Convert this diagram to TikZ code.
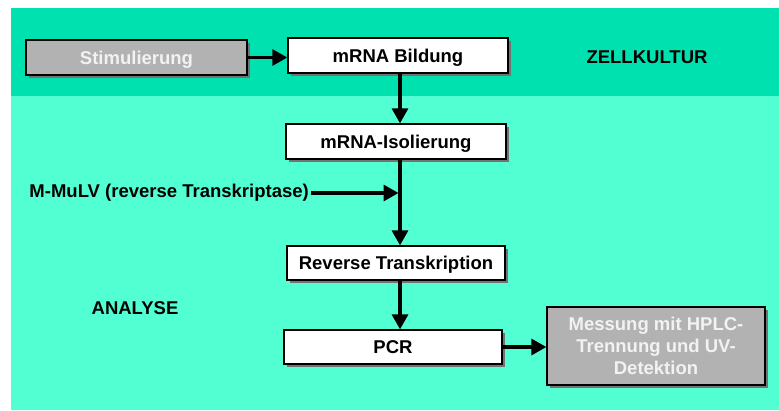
\documentclass[tikz,border=0pt]{standalone}
\usepackage{fontspec}
\setmainfont{Liberation Sans}
\usetikzlibrary{arrows.meta,shadows}
\definecolor{topband}{HTML}{00E1B0}
\definecolor{lowband}{HTML}{52FFD2}
\definecolor{boxgray}{HTML}{B2B2B2}
\definecolor{graytext}{HTML}{F2F2F2}
\begin{document}
\begin{tikzpicture}[x=1pt,y=-1pt,
  lbl/.style={font=\fontsize{18.5}{22}\selectfont\bfseries},
  stepbox/.style={draw=black,line width=1.3pt,inner sep=0pt,align=center,
    lbl,drop shadow={shadow xshift=2.5pt,shadow yshift=-2.5pt,fill=black!55,opacity=1}},
  whitebox/.style={stepbox,fill=white,text=black,text depth=0pt},
  graybox/.style={stepbox,fill=boxgray,text=graytext,text depth=0pt},
  arr/.style={line width=3.2pt,-{Triangle[length=15pt,width=16pt]}}]
\useasboundingbox (0,0) rectangle (779,410);
\fill[white] (0,0) rectangle (779,410);
\fill[lowband] (11,96) rectangle (779,410);
\fill[topband] (11,8) rectangle (779,96);

\node[graybox,minimum width=221pt,minimum height=35pt] (stim) at (136.5,57.5) {Stimulierung};
\node[whitebox,minimum width=220pt,minimum height=35pt] (mb) at (398,55.5) {mRNA Bildung};
\node[lbl,text depth=0pt] (zk) at (647,57) {ZELLKULTUR};
\node[whitebox,minimum width=220pt,minimum height=35pt] (iso) at (396,141.5) {mRNA-Isolierung};
\node[lbl,anchor=east,inner sep=0pt] (mmlv) at (309,193) {M-MuLV (reverse Transkriptase)};
\node[whitebox,minimum width=218pt,minimum height=34pt] (rt) at (396,263) {Reverse Transkription};
\node[lbl,text depth=0pt] (an) at (135,308) {ANALYSE};
\node[whitebox,minimum width=218pt,minimum height=34pt] (pcr) at (393,347) {PCR};
\node[graybox,minimum width=218pt,minimum height=78pt] (mess) at (656,346)
  {Messung mit HPLC-\\Trennung und UV-\\Detektion};

\coordinate (vx) at (400,0);
\coordinate (join) at (400,193);
\draw[arr] (stim.east) -- (stim.east -| mb.west);
\draw[arr] (mb.south -| vx) -- (iso.north -| vx);
\draw[arr] (iso.south -| vx) -- (rt.north -| vx);
\draw[arr] ([xshift=2pt]mmlv.east) -- ([xshift=-1.5pt]join);
\draw[arr] (rt.south -| vx) -- (pcr.north -| vx);
\draw[arr] (pcr.east) -- (pcr.east -| mess.west);
\end{tikzpicture}
\end{document}
